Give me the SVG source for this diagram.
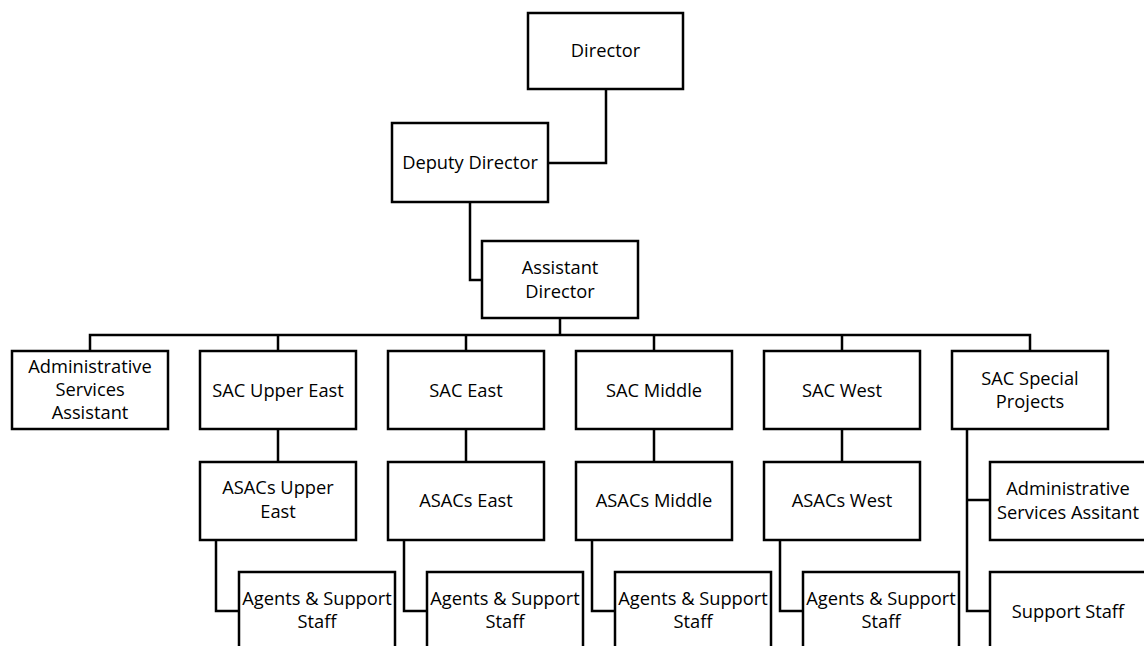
<svg xmlns="http://www.w3.org/2000/svg" width="1144" height="646" viewBox="0 0 1144 646">
<style>
.box{fill:#fff;stroke:#000;stroke-width:2.5}
.ln{fill:none;stroke:#000;stroke-width:2.5}
text{font-family:"Open Sans","Noto Sans","Liberation Sans",sans-serif;font-size:18.3px;fill:#000;text-anchor:middle}
</style>
<rect width="1144" height="646" fill="#fff"/>
<g id="connectors">
<path class="ln" d="M606 89V163H548"/>
<path class="ln" d="M470 202V280H482"/>
<path class="ln" d="M560 318V335"/>
<path class="ln" d="M90 351V335H1030V351"/>
<path class="ln" d="M278 335V351M466 335V351M654 335V351M842 335V351"/>
<path class="ln" d="M278 429V462M466 429V462M654 429V462M842 429V462"/>
<path class="ln" d="M216 540V611H239M404 540V611H427M592 540V611H615M780 540V611H803"/>
<path class="ln" d="M967 429V611H990M967 500H990"/>
</g>
<g id="director"><rect class="box" x="528" y="13" width="155" height="76"/><text x="605.5" y="57">Director</text></g>
<g id="deputy-director"><rect class="box" x="392" y="123" width="156" height="79"/><text x="470" y="169">Deputy Director</text></g>
<g id="assistant-director"><rect class="box" x="482" y="241" width="156" height="77"/><text x="560" y="274">Assistant</text><text x="560" y="298">Director</text></g>
<g id="admin-services-assistant"><rect class="box" x="12" y="351" width="156" height="78"/><text x="90" y="373">Administrative</text><text x="90" y="396">Services</text><text x="90" y="419">Assistant</text></g>
<g id="sac-upper-east"><rect class="box" x="200" y="351" width="156" height="78"/><text x="278" y="397">SAC Upper East</text></g>
<g id="sac-east"><rect class="box" x="388" y="351" width="156" height="78"/><text x="466" y="397">SAC East</text></g>
<g id="sac-middle"><rect class="box" x="576" y="351" width="156" height="78"/><text x="654" y="397">SAC Middle</text></g>
<g id="sac-west"><rect class="box" x="764" y="351" width="156" height="78"/><text x="842" y="397">SAC West</text></g>
<g id="sac-special-projects"><rect class="box" x="952" y="351" width="156" height="78"/><text x="1030" y="385">SAC Special</text><text x="1030" y="408">Projects</text></g>
<g id="asacs-upper-east"><rect class="box" x="200" y="462" width="156" height="78"/><text x="278" y="494">ASACs Upper</text><text x="278" y="518">East</text></g>
<g id="asacs-east"><rect class="box" x="388" y="462" width="156" height="78"/><text x="466" y="507">ASACs East</text></g>
<g id="asacs-middle"><rect class="box" x="576" y="462" width="156" height="78"/><text x="654" y="507">ASACs Middle</text></g>
<g id="asacs-west"><rect class="box" x="764" y="462" width="156" height="78"/><text x="842" y="507">ASACs West</text></g>
<g id="special-admin-assistant"><rect class="box" x="990" y="462" width="156" height="78"/><text x="1068" y="495">Administrative</text><text x="1068" y="519">Services Assitant</text></g>
<g id="agents-upper-east"><rect class="box" x="239" y="572" width="156" height="90"/><text x="317" y="605">Agents &amp; Support</text><text x="317" y="628">Staff</text></g>
<g id="agents-east"><rect class="box" x="427" y="572" width="156" height="90"/><text x="505" y="605">Agents &amp; Support</text><text x="505" y="628">Staff</text></g>
<g id="agents-middle"><rect class="box" x="615" y="572" width="156" height="90"/><text x="693" y="605">Agents &amp; Support</text><text x="693" y="628">Staff</text></g>
<g id="agents-west"><rect class="box" x="803" y="572" width="156" height="90"/><text x="881" y="605">Agents &amp; Support</text><text x="881" y="628">Staff</text></g>
<g id="support-staff"><rect class="box" x="990" y="572" width="156" height="90"/><text x="1068" y="618">Support Staff</text></g>
</svg>
